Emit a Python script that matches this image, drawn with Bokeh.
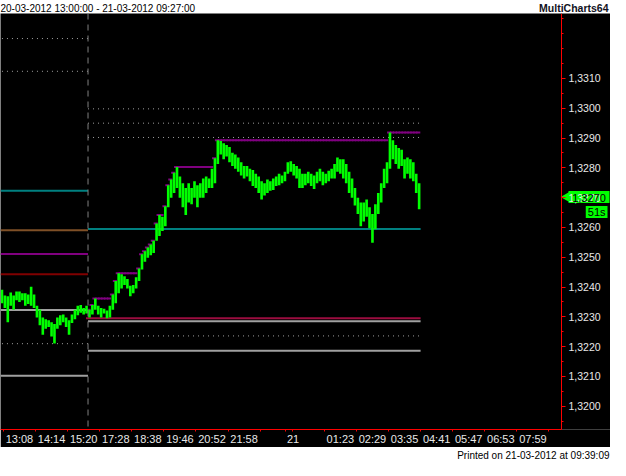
from bokeh.plotting import figure
from bokeh.layouts import column
from bokeh.models import (Range1d, FixedTicker, CustomJSTickFormatter, Span, Label,
                          ColumnDataSource)
from bokeh.embed import file_html
from bokeh.resources import INLINE
import numpy as np

# ---------------- texts ----------------
title_range = "20-03-2012 13:00:00 - 21-03-2012 09:27:00"
brand = "MultiCharts64"
printed = "Printed on 21-03-2012 at 09:39:09"
timer_text = "51s"

# ---------------- price bars (6-minute bars, index 0..143) ----------------
highs = [
    1.32391, 1.32372, 1.32369, 1.32382, 1.32372, 1.32385, 1.32385, 1.32379, 1.32379, 1.32375,
    1.32401, 1.32375, 1.32337, 1.32324, 1.32298, 1.32292, 1.32289, 1.32282, 1.32276, 1.32298,
    1.32305, 1.32308, 1.32298, 1.32289, 1.32308, 1.32324, 1.32337, 1.32340, 1.32330, 1.32337,
    1.32324, 1.32340, 1.32362, 1.32337, 1.32330, 1.32327, 1.32321, 1.32337, 1.32375, 1.32420,
    1.32446, 1.32443, 1.32436, 1.32427, 1.32404, 1.32407, 1.32433, 1.32462, 1.32510, 1.32520,
    1.32533, 1.32543, 1.32555, 1.32613, 1.32642, 1.32636, 1.32671, 1.32742, 1.32761, 1.32784,
    1.32803, 1.32771, 1.32748, 1.32732, 1.32748, 1.32732, 1.32755, 1.32742, 1.32748, 1.32764,
    1.32771, 1.32764, 1.32797, 1.32832, 1.32893, 1.32890, 1.32883, 1.32877, 1.32870, 1.32851,
    1.32845, 1.32835, 1.32819, 1.32806, 1.32806, 1.32797, 1.32793, 1.32780, 1.32771, 1.32755,
    1.32748, 1.32761, 1.32755, 1.32764, 1.32771, 1.32780, 1.32774, 1.32787, 1.32819, 1.32822,
    1.32813, 1.32806, 1.32797, 1.32780, 1.32780, 1.32787, 1.32780, 1.32774, 1.32787, 1.32797,
    1.32787, 1.32780, 1.32790, 1.32797, 1.32813, 1.32835, 1.32829, 1.32829, 1.32813, 1.32787,
    1.32764, 1.32732, 1.32700, 1.32684, 1.32684, 1.32694, 1.32668, 1.32645, 1.32678, 1.32716,
    1.32748, 1.32797, 1.32819, 1.32919, 1.32893, 1.32877, 1.32867, 1.32861, 1.32829, 1.32835,
    1.32829, 1.32819, 1.32780, 1.32748,
]
lows = [
    1.32346, 1.32330, 1.32282, 1.32337, 1.32324, 1.32356, 1.32350, 1.32356, 1.32337, 1.32343,
    1.32337, 1.32330, 1.32298, 1.32272, 1.32240, 1.32260, 1.32266, 1.32234, 1.32211, 1.32260,
    1.32272, 1.32282, 1.32266, 1.32240, 1.32279, 1.32292, 1.32305, 1.32314, 1.32308, 1.32311,
    1.32298, 1.32308, 1.32324, 1.32308, 1.32298, 1.32311, 1.32295, 1.32298, 1.32324, 1.32346,
    1.32379, 1.32395, 1.32407, 1.32395, 1.32369, 1.32379, 1.32395, 1.32420, 1.32459, 1.32485,
    1.32498, 1.32507, 1.32514, 1.32555, 1.32571, 1.32588, 1.32604, 1.32668, 1.32700, 1.32716,
    1.32732, 1.32700, 1.32668, 1.32642, 1.32684, 1.32678, 1.32700, 1.32668, 1.32700, 1.32700,
    1.32716, 1.32732, 1.32732, 1.32748, 1.32813, 1.32845, 1.32829, 1.32838, 1.32819, 1.32806,
    1.32797, 1.32787, 1.32774, 1.32764, 1.32771, 1.32755, 1.32739, 1.32732, 1.32716, 1.32694,
    1.32707, 1.32716, 1.32723, 1.32726, 1.32739, 1.32742, 1.32748, 1.32755, 1.32780, 1.32787,
    1.32774, 1.32764, 1.32732, 1.32732, 1.32742, 1.32748, 1.32739, 1.32729, 1.32748, 1.32755,
    1.32742, 1.32748, 1.32755, 1.32764, 1.32764, 1.32787, 1.32780, 1.32764, 1.32748, 1.32716,
    1.32700, 1.32674, 1.32645, 1.32604, 1.32620, 1.32636, 1.32597, 1.32549, 1.32594, 1.32645,
    1.32684, 1.32732, 1.32748, 1.32797, 1.32829, 1.32813, 1.32797, 1.32806, 1.32764, 1.32780,
    1.32764, 1.32755, 1.32716, 1.32661,
]
last_close = 1.32702
session_start = 30          # first bar of the new session

# ---------------- horizontal levels ----------------
prev_solid_levels = [1.32723, 1.32591, 1.32511, 1.32443, 1.32323, 1.32102]
prev_solid_colors = ["#008080", "#7F5027", "#800080", "#800000", "#A0A0A0", "#A0A0A0"]
prev_dotted_levels = [1.33234, 1.33124, 1.32210]

cur_solid_levels = [1.32595, 1.32285, 1.32186]
cur_solid_colors = ["#008080", "#A0A0A0", "#A0A0A0"]
cur_dotted_levels = [1.32998, 1.32950, 1.32902, 1.32236]

# ---------------- axes ----------------
time_tick_bars = [0.5, 11.5, 22.5, 33.5, 44.5, 55.5, 66.5, 77.5, 88.5, 99.5,
                  110.5, 121.5, 132.5, 143.5, 154.5, 165.5, 176.5, 187.5]
time_tick_labels = ["13:08", "14:14", "15:20", "17:28", "18:38", "19:46", "20:52", "21:58",
                    "", "", "01:23", "02:29", "03:35", "04:41", "05:47", "06:53", "07:59", ""]
day_tick_bar = 97.3
day_label = "21"

price_ticks = [1.3200, 1.3210, 1.3220, 1.3230, 1.3240, 1.3250, 1.3260, 1.3270,
               1.3280, 1.3290, 1.3300, 1.3310]
price_minor = [1.3195, 1.3200, 1.3205, 1.3210, 1.3215, 1.3220, 1.3225, 1.3230, 1.3235,
               1.3240, 1.3245, 1.3250, 1.3255, 1.3260, 1.3265, 1.3270, 1.3275, 1.3280,
               1.3285, 1.3290, 1.3295, 1.3300, 1.3305, 1.3310, 1.3315, 1.3320, 1.3325, 1.3330]

FONT = "Liberation Sans"
GREEN = "#00FF00"
RED = "#FF0000"
LBL = "#E8E8E8"

W = 610
HEAD_H = 13
FOOT_H = 13
MAIN_H = 460 - HEAD_H - FOOT_H
PRICE_PANEL = 49            # width of the price-scale strip on the right

n = len(highs)
idx = np.arange(n)
x_start, axis_bar = -0.5, 191.8
x_end = x_start + (axis_bar - x_start) * W / (W - PRICE_PANEL)
px_per_bar = (W - PRICE_PANEL) / (axis_bar - x_start)
y_start, y_end = 1.31922, 1.33318

# ---------------- header / footer strips ----------------
def strip(h):
    f = figure(width=W, height=h, x_range=Range1d(0, 1), y_range=Range1d(0, 1),
               x_axis_location=None, y_axis_location=None, output_backend="svg",
               toolbar_location=None, min_border=0)
    f.background_fill_color = "white"
    f.border_fill_color = "white"
    f.outline_line_color = None
    f.grid.visible = False
    return f

head = strip(HEAD_H)
head.add_layout(Label(x=0, y=0.5, text=title_range, text_font=FONT, text_font_size="10px",
                      text_color="black", text_baseline="middle", x_offset=0, y_offset=-1))
head.add_layout(Label(x=1, y=0.5, text=brand, text_font=FONT, text_font_size="10.5px",
                      text_font_style="bold", text_color="#111122", text_align="right",
                      text_baseline="middle", x_offset=-2, y_offset=-1))

foot = strip(FOOT_H)
foot.add_layout(Label(x=1, y=0.5, text=printed, text_font=FONT, text_font_size="10px",
                      text_color="black", text_align="right", text_baseline="middle",
                      x_offset=-1, y_offset=-1))

# ---------------- main chart ----------------
p = figure(width=W, height=MAIN_H, x_range=Range1d(x_start, x_end),
           y_range=Range1d(y_start, y_end), y_axis_location="right",
           output_backend="svg", toolbar_location=None, min_border=0)
p.background_fill_color = "black"
p.border_fill_color = "black"
p.outline_line_color = None
p.grid.visible = False

# ---- x axis ----
xa = p.xaxis[0]
label_pos = []
overrides = {}
for t, lab in zip(time_tick_bars, time_tick_labels):
    if lab:
        pos = t + 5.5
        label_pos.append(pos)
        overrides[pos] = lab
label_pos.append(day_tick_bar + 2.5)
overrides[day_tick_bar + 2.5] = day_label
xa.ticker = FixedTicker(ticks=label_pos, minor_ticks=time_tick_bars + [day_tick_bar])
xa.major_label_overrides = overrides
xa.bounds = (x_start, axis_bar)
xa.axis_line_color = RED
xa.major_tick_line_color = None
xa.minor_tick_line_color = RED
xa.minor_tick_out = 2
xa.minor_tick_in = 0
xa.major_tick_out = 0
xa.major_tick_in = 0
xa.major_label_standoff = 1
xa.major_label_text_color = LBL
xa.major_label_text_font = FONT
xa.major_label_text_font_size = "11px"

# ---- y axis (price scale), drawn at the right edge of the data area ----
ya = p.yaxis[0]
ya.fixed_location = axis_bar
ya.ticker = FixedTicker(ticks=price_ticks, minor_ticks=price_minor)
ya.formatter = CustomJSTickFormatter(code="return tick.toFixed(4).replace('.', ',');")
ya.axis_line_color = RED
ya.major_tick_line_color = RED
ya.minor_tick_line_color = RED
ya.major_tick_out = 4
ya.major_tick_in = 0
ya.minor_tick_out = 2
ya.minor_tick_in = 0
ya.major_label_standoff = 3
ya.major_label_text_color = LBL
ya.major_label_text_font = FONT
ya.major_label_text_font_size = "10.5px"

# ---- level lines ----
prev_x0, prev_x1 = x_start, session_start - 0.5
cur_x0, cur_x1 = session_start - 0.5, n - 0.5

p.segment(x0=[prev_x0] * len(prev_solid_levels), x1=[prev_x1] * len(prev_solid_levels),
          y0=prev_solid_levels, y1=prev_solid_levels, line_color=prev_solid_colors, line_width=2)
p.segment(x0=[prev_x0 + 0.5] * len(prev_dotted_levels), x1=[prev_x1] * len(prev_dotted_levels),
          y0=prev_dotted_levels, y1=prev_dotted_levels, line_color="#A0A0A0",
          line_width=1, line_dash="1 4")
p.segment(x0=[cur_x0] * len(cur_solid_levels), x1=[cur_x1] * len(cur_solid_levels),
          y0=cur_solid_levels, y1=cur_solid_levels, line_color=cur_solid_colors, line_width=2)
p.segment(x0=[cur_x0] * len(cur_dotted_levels), x1=[cur_x1] * len(cur_dotted_levels),
          y0=cur_dotted_levels, y1=cur_dotted_levels, line_color="#A0A0A0",
          line_width=1, line_dash="1 4")

# session low (crimson) and running session high (purple)
sess_low = min(lows[session_start:])
p.segment(x0=[cur_x0 - 0.7], x1=[cur_x1], y0=[sess_low], y1=[sess_low],
          line_color="#9B0D3F", line_width=2)
run_high = np.maximum.accumulate(np.array(highs[session_start:]))
hx = idx[session_start:]
p.segment(x0=hx - 1.0, x1=hx + 0.4, y0=run_high, y1=run_high, line_color="#800080", line_width=2)

# session separator
p.add_layout(Span(location=session_start - 0.5, dimension="height", line_color="#808080",
                  line_width=1, line_dash="6 5"))

# price bars
src = ColumnDataSource(dict(x=idx, high=highs, low=lows))
p.vbar(x="x", top="high", bottom="low", width=0.9, source=src,
       fill_color=GREEN, line_color=None)

# ---- last price marker on the price scale ----
price_text = f"{last_close:.4f}".replace(".", ",")
box_w = 41
p.scatter(x=[axis_bar + 6 / px_per_bar], y=[last_close], marker="triangle",
          angle=np.pi / 2, size=12, fill_color=GREEN, line_color=None)
p.rect(x=[axis_bar + (7 + box_w / 2) / px_per_bar], y=[last_close], width=box_w, height=12,
       width_units="screen", height_units="screen", fill_color=GREEN, line_color=None)
p.add_layout(Label(x=axis_bar, y=last_close, text=price_text, text_font=FONT,
                   text_font_size="11px", text_color="black", text_baseline="middle",
                   text_align="center", x_offset=7 + box_w / 2, y_offset=-0.5))
p.add_layout(Label(x=axis_bar, y=last_close, text=timer_text, text_font=FONT,
                   text_font_size="11px", text_color="black", text_baseline="middle",
                   text_align="right", background_fill_color=GREEN, x_offset=46,
                   y_offset=-15, padding=dict(x=2, y=0)))

open("out.html", "w").write(file_html(column(head, p, foot), INLINE))
